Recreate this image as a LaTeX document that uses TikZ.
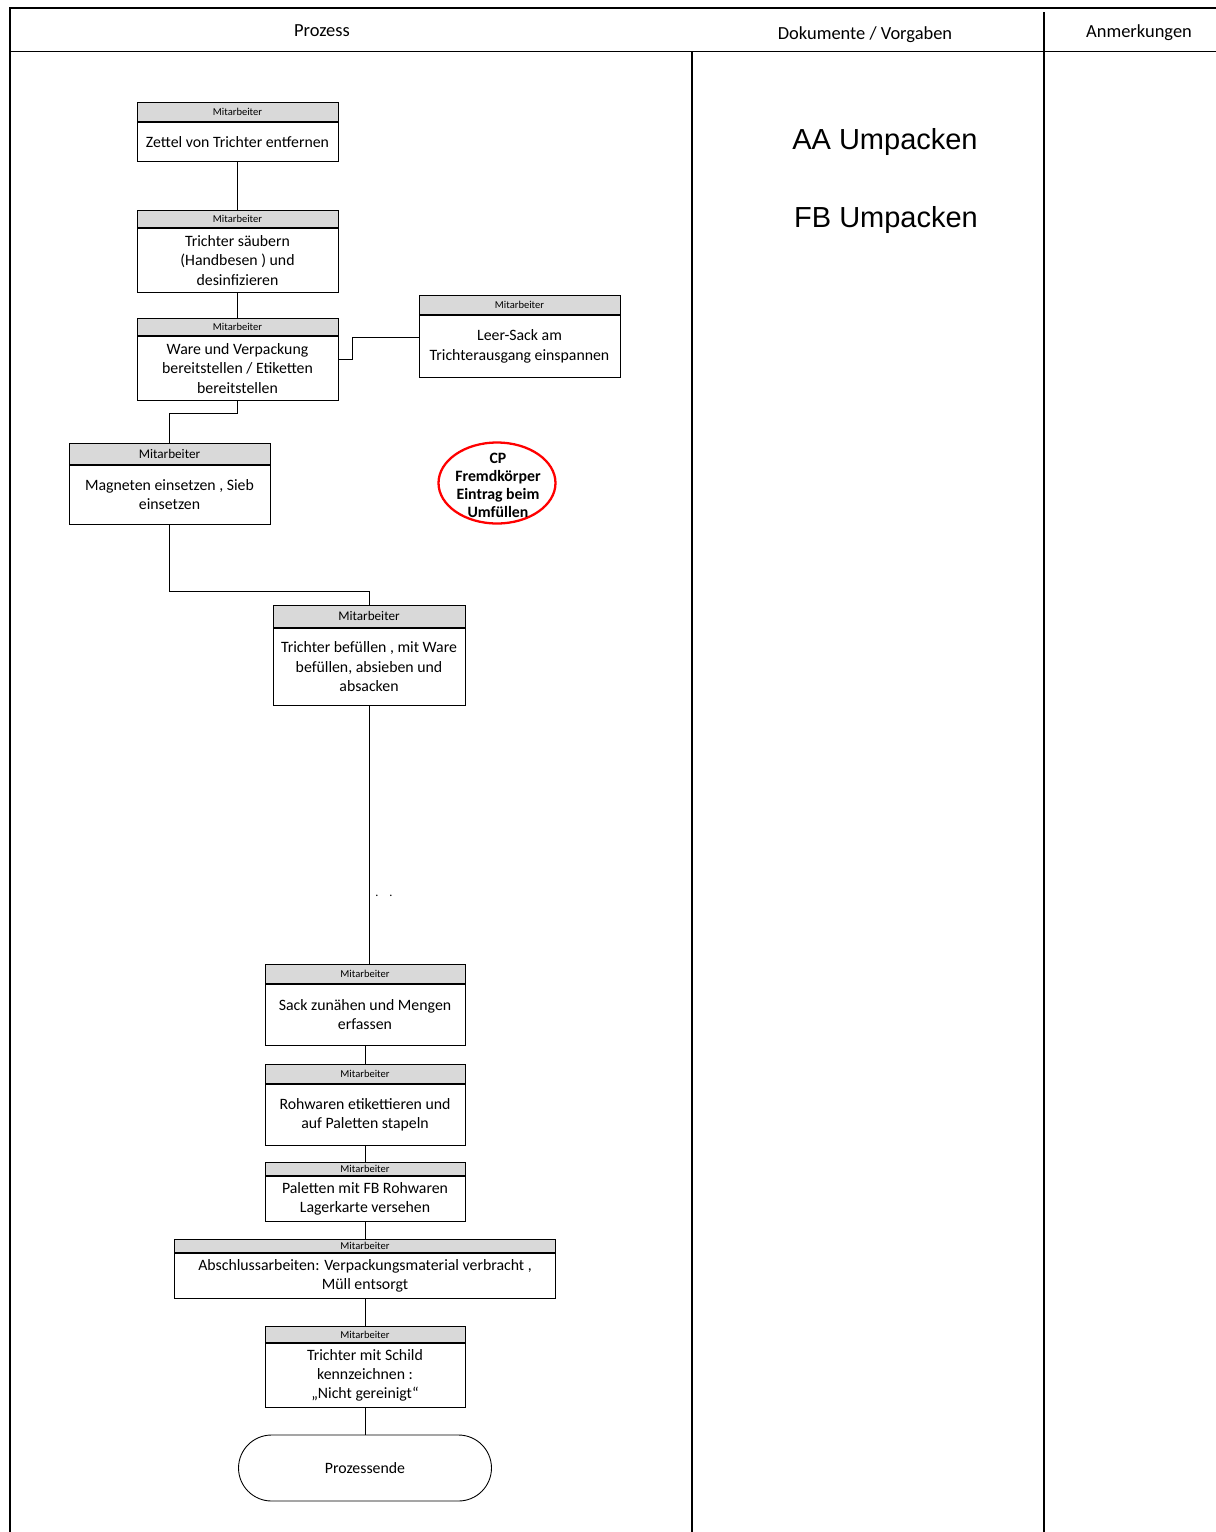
\documentclass[tikz,border=0pt]{standalone}
\usepackage{fontspec}
\setmainfont{Carlito}
\newfontfamily\arialfont{Liberation Sans}
\usetikzlibrary{shapes.geometric}
\definecolor{hdrgray}{HTML}{D9D9D9}

\begin{document}
\begin{tikzpicture}[x=0.02cm, y=-0.02cm, line width=0.5pt,
        hdr/.style={draw, fill=hdrgray, anchor=north, minimum width=4.02cm, inner sep=0pt, font=\fontsize{6}{7}\selectfont},
        hdrbig/.style={hdr, font=\fontsize{7.5}{8}\selectfont},
        body/.style={draw, anchor=north, minimum width=4.02cm, inner sep=1pt, align=center, font=\fontsize{9}{11}\selectfont},
        colhead/.style={font=\fontsize{10.5}{12}\selectfont},
        doc/.style={font=\arialfont\fontsize{16.5}{19}\selectfont}]
        \useasboundingbox (0,0) rectangle (1216,1532);

        % frame and columns
        \draw[line width=1.4pt] (10,1532) -- (10,8) -- (1216,8);
        \draw (10,51) -- (1216,51);
        \draw[line width=0.8pt] (692,51) -- (692,1532);
        \draw[line width=0.8pt] (1044,12) -- (1044,1532);
        \node[colhead] (hproz) at (322,31) {Prozess};
        \node[colhead] (hdok) at (865,35) {Dokumente / Vorgaben};
        \node[colhead] (hanm) at (1139,33) {Anmerkungen};

        \node[doc] (aa) at (885,142) {AA Umpacken};
        \node[doc] (fb) at (886,220) {FB Umpacken};

        % process steps
        \node[hdr, minimum height=0.38cm] (z1h) at (237.5,102) {Mitarbeiter};
        \node[body, minimum height=0.78cm] (z1b) at (z1h.south) {Zettel von Trichter entfernen};

        \node[hdr, minimum height=0.34cm] (z2h) at (237.5,210) {Mitarbeiter};
        \node[body, minimum height=1.28cm] (z2b) at (z2h.south) {Trichter säubern\\(Handbesen ) und\\desinfizieren};

        \node[hdr, minimum height=0.34cm] (z3h) at (237.5,318) {Mitarbeiter};
        \node[body, minimum height=1.28cm] (z3b) at (z3h.south) {Ware und Verpackung\\bereitstellen / Etiketten\\bereitstellen};

        \node[hdr, minimum height=0.38cm] (leerh) at (519.5,295) {Mitarbeiter};
        \node[body, minimum height=1.24cm] (leerb) at (leerh.south) {Leer-Sack am\\Trichterausgang einspannen};

        \node[hdrbig, minimum height=0.42cm] (magnh) at (169.5,443) {Mitarbeiter};
        \node[body, minimum height=1.18cm] (magnb) at (magnh.south) {Magneten einsetzen , Sieb\\einsetzen};

        \node[hdrbig, minimum height=0.44cm, minimum width=3.84cm] (fillh) at (369,605) {Mitarbeiter};
        \node[body, minimum height=1.54cm, minimum width=3.84cm] (fillb) at (fillh.south) {Trichter befüllen , mit Ware\\befüllen, absieben und\\absacken};

        \node[font=\fontsize{7}{8}\selectfont] (dots) at (384,896) {.\hspace{2.2mm}.};

        \node[hdr, minimum height=0.38cm, minimum width=4cm] (sackh) at (365,964) {Mitarbeiter};
        \node[body, minimum height=1.22cm, minimum width=4cm] (sackb) at (sackh.south) {Sack zunähen und Mengen\\erfassen};

        \node[hdr, minimum height=0.38cm, minimum width=4cm] (rohwh) at (365,1064) {Mitarbeiter};
        \node[body, minimum height=1.22cm, minimum width=4cm] (rohwb) at (rohwh.south) {Rohwaren etikettieren und\\auf Paletten stapeln};

        \node[hdr, minimum height=0.26cm, minimum width=4cm] (palh) at (365,1162) {Mitarbeiter};
        \node[body, minimum height=0.9cm, minimum width=4cm] (palb) at (palh.south) {Paletten mit FB Rohwaren\\Lagerkarte versehen};

        \node[hdr, minimum height=0.26cm, minimum width=7.62cm] (abh) at (365,1239) {Mitarbeiter};
        \node[body, minimum height=0.9cm, minimum width=7.62cm] (abb) at (abh.south) {Abschlussarbeiten: Verpackungsmaterial verbracht ,\\Müll entsorgt};

        \node[hdr, minimum height=0.32cm, minimum width=4cm] (schh) at (365,1326) {Mitarbeiter};
        \node[body, minimum height=1.28cm, minimum width=4cm] (schb) at (schh.south) {Trichter mit Schild\\kennzeichnen :\\„Nicht gereinigt“};

        \node[draw, rounded corners=0.66cm, minimum width=5.06cm, minimum height=1.32cm, font=\fontsize{9}{11}\selectfont] (ende) at (365,1468) {Prozessende};

        % control point
        \node[draw=red, line width=1.3pt, ellipse, minimum width=2.34cm, minimum height=1.62cm, inner sep=0pt] (cp) at (497,483) {};
        \node[align=center, inner sep=0pt, font=\bfseries\fontsize{9}{10.2}\selectfont] (cptext) at (498,485) {CP\\Fremdkörper\\Eintrag beim\\Umfüllen};

        % connectors
        \path (z1b) edge (z2h);
        \path (z2b) edge (z3h);
        \draw ([yshift=0.18cm]z3b.east) -- ++(0.28cm,0) |- ([yshift=0.18cm]leerb.west);
        \draw (z3b.south) -- ++(0,-0.26cm) -| (magnh.north);
        \draw (magnb.south) -- ++(0,-1.34cm) -| (fillh.north);
        \draw (fillb.south) -- (fillb.south |- sackh.north);
        \path (sackb) edge (rohwh);
        \path (rohwb) edge (palh);
        \path (palb) edge (abh);
        \path (abb) edge (schh);
        \path (schb) edge (ende);
\end{tikzpicture}
\end{document}
